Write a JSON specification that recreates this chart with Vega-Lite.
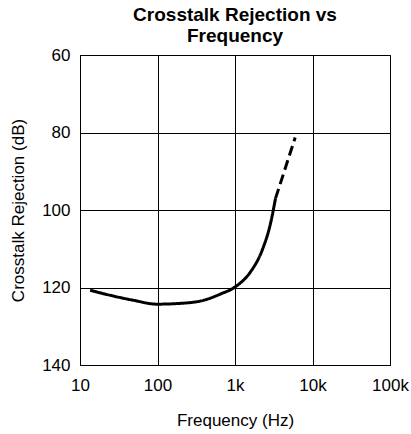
{
  "$schema": "https://vega.github.io/schema/vega-lite/v6.json",
  "width": 310,
  "height": 310,
  "autosize": {"type": "none"},
  "padding": {"left": 80, "top": 55, "right": 21, "bottom": 69},
  "background": "white",
  "title": {
    "text": ["Crosstalk Rejection vs", "Frequency"],
    "font": "Liberation Sans",
    "fontSize": 19,
    "fontWeight": "bold",
    "color": "black",
    "anchor": "middle",
    "frame": "group",
    "lineHeight": 21,
    "offset": 0
  },
  "config": {
    "view": {"stroke": "black", "strokeWidth": 1},
    "axis": {
      "domain": false,
      "ticks": false,
      "grid": true,
      "gridColor": "black",
      "gridOpacity": 1,
      "gridWidth": 1,
      "labelFont": "Liberation Sans",
      "labelFontSize": 17,
      "labelColor": "black",
      "titleFont": "Liberation Sans",
      "titleFontSize": 17,
      "titleFontWeight": "normal",
      "titleColor": "black"
    }
  },
  "data": {
    "values": [
      {"f": 13.5, "db": 120.7, "seg": "solid"},
      {"f": 24.4, "db": 122.0, "seg": "solid"},
      {"f": 49, "db": 123.3, "seg": "solid"},
      {"f": 98, "db": 124.3, "seg": "solid"},
      {"f": 197, "db": 124.1, "seg": "solid"},
      {"f": 394, "db": 123.3, "seg": "solid"},
      {"f": 647, "db": 121.7, "seg": "solid"},
      {"f": 1012, "db": 119.8, "seg": "solid"},
      {"f": 1581, "db": 116.0, "seg": "solid"},
      {"f": 2239, "db": 110.4, "seg": "solid"},
      {"f": 2870, "db": 103.5, "seg": "solid"},
      {"f": 3333, "db": 97.0, "seg": "solid"},
      {"f": 3333, "db": 97.0, "seg": "dashed"},
      {"f": 5980, "db": 81.3, "seg": "dashed"}
    ]
  },
  "mark": {"type": "line", "color": "black", "strokeWidth": 3, "interpolate": "monotone", "clip": true},
  "encoding": {
    "x": {
      "field": "f",
      "type": "quantitative",
      "scale": {"type": "log", "domain": [10, 100000], "nice": false},
      "axis": {
        "title": "Frequency (Hz)",
        "values": [10, 100, 1000, 10000, 100000],
        "labelExpr": "datum.value >= 1000 ? (datum.value / 1000) + 'k' : '' + datum.value",
        "labelPadding": 12,
        "titlePadding": 19,
        "labelFlush": false
      }
    },
    "y": {
      "field": "db",
      "type": "quantitative",
      "scale": {"domain": [60, 140], "reverse": true, "nice": false},
      "axis": {
        "title": "Crosstalk Rejection (dB)",
        "values": [60, 80, 100, 120, 140],
        "labelPadding": 10,
        "titlePadding": 14,
        "labelFlush": false
      }
    },
    "strokeDash": {
      "field": "seg",
      "type": "nominal",
      "scale": {"domain": ["solid", "dashed"], "range": [[1, 0], [10, 5]]},
      "legend": null
    }
  }
}
